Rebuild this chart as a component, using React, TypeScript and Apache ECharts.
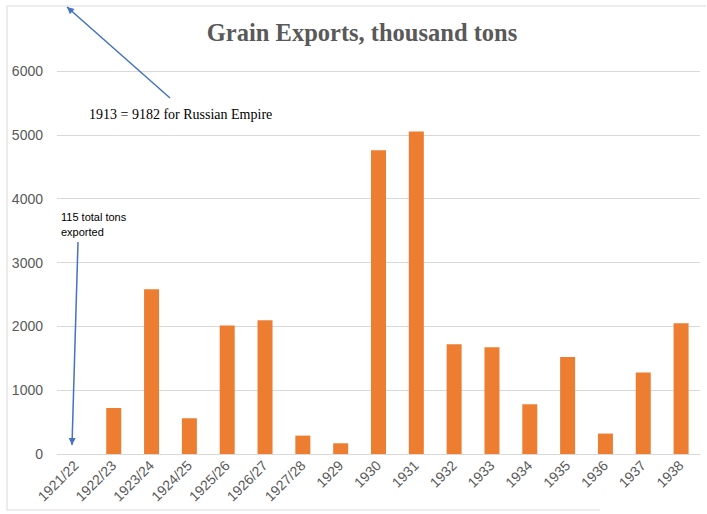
import React, { useEffect, useRef } from "react";
import * as echarts from "echarts";

const categories = [
  "1921/22", "1922/23", "1923/24", "1924/25", "1925/26", "1926/27", "1927/28",
  "1929", "1930", "1931", "1932", "1933", "1934", "1935", "1936", "1937", "1938",
];
const exports = [
  0.115, 721, 2580, 560, 2015, 2096, 288, 168, 4760, 5053, 1720, 1672, 779, 1520, 320, 1276, 2050,
];
const yTicks = { min: 0, max: 6000, interval: 1000 };

const TITLE = "Grain Exports, thousand tons";
const NOTE_EMPIRE = "1913 = 9182 for Russian Empire";
const NOTE_1921 = "115 total tons\nexported";

const gray = "#595959";
const blue = "#4472C4";

function arrowHead(x1: number, y1: number, x2: number, y2: number, len = 7, half = 3.5) {
  const dx = x2 - x1, dy = y2 - y1;
  const d = Math.sqrt(dx * dx + dy * dy);
  const ux = dx / d, uy = dy / d;
  const bx = x2 - ux * len, by = y2 - uy * len;
  return [
    [x2, y2],
    [bx - uy * half, by + ux * half],
    [bx + uy * half, by - ux * half],
  ];
}

export default function App() {
  const ref = useRef<HTMLDivElement>(null);
  useEffect(() => {
    if (!ref.current) return;
    const chart = echarts.init(ref.current, null, { renderer: "svg" });
    const a1 = { x1: 170, y1: 98, x2: 67, y2: 7 };
    const a2 = { x1: 78, y1: 242, x2: 72, y2: 445 };
    chart.setOption({
      animation: false,
      backgroundColor: "#ffffff",
      title: {
        text: TITLE,
        left: 357,
        textAlign: "center",
        top: 15,
        textStyle: {
          fontFamily: "Liberation Serif",
          fontWeight: "bold",
          fontSize: 24.5,
          color: gray,
        },
      },
      grid: { left: 57, right: 7, top: 71, bottom: 60, containLabel: false },
      xAxis: {
        type: "category",
        data: categories,
        axisTick: { show: false },
        axisLine: { lineStyle: { color: "#d9d9d9", width: 1 } },
        axisLabel: {
          rotate: 45,
          interval: 0,
          color: gray,
          fontSize: 14,
          fontFamily: "Liberation Sans",
          margin: 9,
        },
      },
      yAxis: {
        type: "value",
        min: yTicks.min,
        max: yTicks.max,
        interval: yTicks.interval,
        axisLine: { show: false },
        axisTick: { show: false },
        splitLine: { lineStyle: { color: "#d9d9d9", width: 1 } },
        axisLabel: {
          color: gray,
          fontSize: 14,
          fontFamily: "Liberation Sans",
          margin: 14,
          formatter: (v: number) => String(v),
        },
      },
      series: [
        {
          type: "bar",
          data: exports,
          barWidth: 15,
          itemStyle: { color: "#ED7D31" },
        },
      ],
      graphic: [
        {
          type: "polyline",
          shape: { points: [[7, 510], [7, 6], [706, 6]] },
          style: { stroke: "#d9d9d9", fill: null, lineWidth: 1 },
          silent: true,
        },
        {
          type: "line",
          shape: { x1: 7, y1: 510, x2: 600, y2: 510 },
          style: { stroke: "#d9d9d9", lineWidth: 1 },
          silent: true,
        },
        {
          type: "line",
          shape: a1,
          style: { stroke: blue, lineWidth: 1.5 },
          z: 100,
        },
        {
          type: "polygon",
          shape: { points: arrowHead(a1.x1, a1.y1, a1.x2, a1.y2) },
          style: { fill: blue },
          z: 100,
        },
        {
          type: "line",
          shape: a2,
          style: { stroke: blue, lineWidth: 1.5 },
          z: 100,
        },
        {
          type: "polygon",
          shape: { points: arrowHead(a2.x1, a2.y1, a2.x2, a2.y2) },
          style: { fill: blue },
          z: 100,
        },
        {
          type: "text",
          x: 89,
          y: 114,
          style: {
            text: NOTE_EMPIRE,
            fontSize: 14,
            fontFamily: "Liberation Serif",
            fill: "#000000",
            textVerticalAlign: "middle",
          },
          z: 100,
        },
        {
          type: "text",
          x: 61,
          y: 209,
          style: {
            text: NOTE_1921,
            fontSize: 11,
            fontFamily: "Liberation Sans",
            lineHeight: 15,
            fill: "#000000",
          },
          z: 100,
        },
      ],
    });
    return () => chart.dispose();
  }, []);
  return <div ref={ref} style={{ width: 707, height: 514, position: "absolute", left: 0, top: 0 }} />;
}
